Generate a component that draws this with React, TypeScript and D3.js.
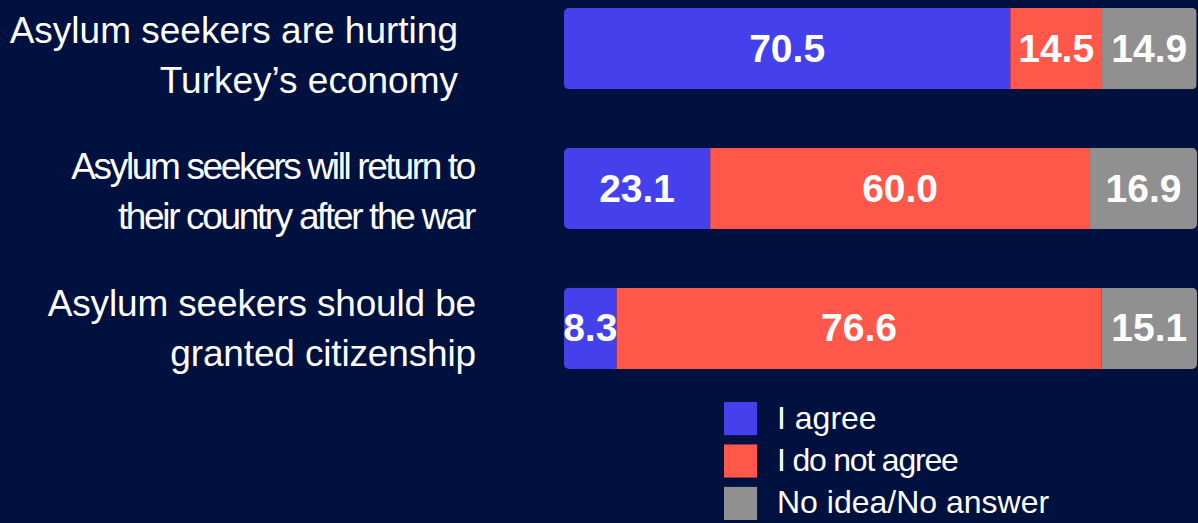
import React from "react";
import * as d3 from "d3";

const statements: string[][] = [
  ["Asylum seekers are hurting", "Turkey\u2019s economy"],
  ["Asylum seekers will return to", "their country after the war"],
  ["Asylum seekers should be", "granted citizenship"],
];
const rowKeys = ["economy", "return", "citizenship"];
const agree = [70.5, 23.1, 8.3];
const disagree = [14.5, 60.0, 76.6];
const noIdea = [14.9, 16.9, 15.1];
const seriesNames = ["I agree", "I do not agree", "No idea/No answer"];
const seriesColors = ["#4440EC", "#FF584A", "#909090"];

// text styling per row
const labelSpacing = [0, -2.35, -0.15];
const labelDx = [-16, 0, 2];
const labelDy = [3, -1, -4];
const legendSpacing = [0, -1.2, 0];

const W = 1198;
const H = 523;
const BG = "#00103F";

export default function App() {
  const x = d3.scaleLinear().domain([0, 100]).range([564, 1197]);
  const y = d3.scaleBand<string>().domain(rowKeys).range([8, 369]).paddingInner(0.42).paddingOuter(0);
  const series = [agree, disagree, noIdea];
  const bw = y.bandwidth();
  const legendY = d3.scaleBand<string>().domain(seriesNames).range([402, 520]).paddingInner(0.22).paddingOuter(0);

  return (
    <svg
      width={W}
      height={H}
      style={{ position: "absolute", left: 0, top: 0, background: BG, fontFamily: "'Liberation Sans', Arial, sans-serif" }}
    >
      <rect x={0} y={0} width={W} height={H} fill={BG} />
      <defs>
        {rowKeys.map((k) => (
          <clipPath id={`clip-${k}`} key={k}>
            <rect x={x(0)} y={y(k)!} width={x(100) - x(0)} height={bw} rx={5} ry={5} />
          </clipPath>
        ))}
      </defs>
      {rowKeys.map((k, i) => {
        const y0 = y(k)!;
        let cum = 0;
        const segs = series.map((s, j) => {
          const start = cum;
          cum += s[i];
          return { start, end: cum, v: s[i], color: seriesColors[j] };
        });
        return (
          <g key={k}>
            <g clipPath={`url(#clip-${k})`}>
              {segs.map((sg, j) => (
                <rect key={j} x={x(sg.start)} y={y0} width={x(sg.end) - x(sg.start)} height={bw} fill={sg.color} />
              ))}
            </g>
            {segs.map((sg, j) => (
              <text
                key={"t" + j}
                x={(x(sg.start) + x(sg.end)) / 2}
                y={y0 + bw / 2 + 13}
                textAnchor="middle"
                fill="#ffffff"
                fontWeight="bold"
                fontSize={39}
              >
                {sg.v.toFixed(1)}
              </text>
            ))}
            {statements[i].map((line, li) => (
              <text
                key={"l" + li}
                x={474 + labelDx[i]}
                y={y0 + 32 + labelDy[i] + li * 50}
                textAnchor="end"
                fill="#ffffff"
                fontSize={37}
                letterSpacing={labelSpacing[i]}
              >
                {line}
              </text>
            ))}
          </g>
        );
      })}
      {seriesNames.map((n, j) => {
        const ly = legendY(n)!;
        const s = legendY.bandwidth();
        return (
          <g key={n}>
            <rect x={724} y={ly} width={s} height={s} fill={seriesColors[j]} />
            <text x={777} y={ly + s / 2 + 10} fill="#ffffff" fontSize={32} letterSpacing={legendSpacing[j]}>
              {n}
            </text>
          </g>
        );
      })}
    </svg>
  );
}
